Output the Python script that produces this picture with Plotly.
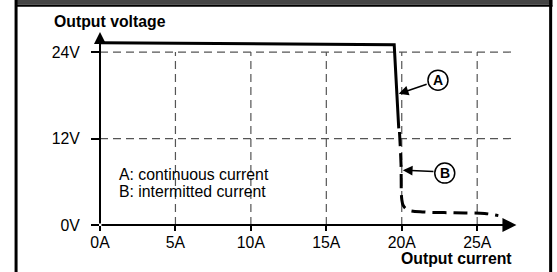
import plotly.graph_objects as go

# ---- data ----
solid_current = [0, 19.5, 19.8]
solid_voltage = [25.3, 25.0, 13.4]
dashed_current = [19.85, 19.95, 20.0, 20.1, 20.4, 21.5, 23.5, 25.5, 26.4]
dashed_voltage = [12.9, 8.5, 3.6, 2.7, 2.1, 1.8, 1.7, 1.6, 1.3]
x_ticks = [0, 5, 10, 15, 20, 25]
x_tick_labels = ["0A", "5A", "10A", "15A", "20A", "25A"]
y_ticks = [0, 12, 24]
y_tick_labels = ["0V", "12V", "24V"]
legend_lines = ["A: continuous current", "B: intermitted current"]

W, H = 557, 272
L, B = 100, 47
XMAX, YMAX = 28.5, 27.2
PXA, PXV = 15.1, 7.2
R = W - L - XMAX * PXA
T = H - B - YMAX * PXV
PW = W - L - R
PH = H - T - B

def px_x(p):
    return (p - L) / PW

def px_y(p):
    return (H - B - p) / PH

FONT = "Liberation Sans, Arial, sans-serif"
FS = 15.8

fig = go.Figure()
fig.add_trace(go.Scatter(x=solid_current, y=solid_voltage, mode="lines",
                         line=dict(color="black", width=3), hoverinfo="skip",
                         cliponaxis=False))
fig.add_trace(go.Scatter(x=dashed_current, y=dashed_voltage, mode="lines",
                         line=dict(color="black", width=3, dash="14px,7px", shape="spline"),
                         hoverinfo="skip", cliponaxis=False))

shapes = []
grid = dict(color="#555555", width=1.2, dash="8px,5px")
for v in [12, 24]:
    shapes.append(dict(type="line", xref="x", yref="y", x0=0, x1=27.4, y0=v, y1=v,
                       line=grid, layer="below"))
for c in [5, 10, 15, 20, 25]:
    shapes.append(dict(type="line", xref="x", yref="y", x0=c, x1=c, y0=0, y1=24,
                       line=grid, layer="below"))
# frame
shapes.append(dict(type="rect", xref="paper", yref="paper", x0=px_x(15), x1=px_x(553),
                   y0=px_y(0) + 0.05, y1=px_y(5), fillcolor="#454545", line=dict(width=0)))
shapes.append(dict(type="line", xref="paper", yref="paper", x0=px_x(15), x1=px_x(553),
                   y0=px_y(6), y1=px_y(6), line=dict(color="black", width=2)))
shapes.append(dict(type="line", xref="paper", yref="paper", x0=px_x(16), x1=px_x(16),
                   y0=px_y(0) + 0.05, y1=px_y(H) - 0.05, line=dict(color="black", width=3)))
shapes.append(dict(type="line", xref="paper", yref="paper", x0=px_x(551), x1=px_x(551),
                   y0=px_y(0) + 0.05, y1=px_y(H) - 0.05, line=dict(color="black", width=3)))
# circles A, B
for cx, cy in [(22.4, 20.1), (22.85, 7.2)]:
    shapes.append(dict(type="circle", xref="x", yref="y", xsizemode="pixel", ysizemode="pixel",
                       xanchor=cx, yanchor=cy, x0=-10, x1=10, y0=-10, y1=10,
                       line=dict(color="black", width=1.5), fillcolor="white"))

ann = []
# axes with arrows
ann.append(dict(x=27.6, y=0, ax=0, ay=0, xref="x", yref="y", axref="x", ayref="y",
                text="", showarrow=True, arrowhead=2, arrowsize=1.4, arrowwidth=2,
                arrowcolor="black", standoff=0, startstandoff=0))
ann.append(dict(x=0, y=26.8, ax=0, ay=0, xref="x", yref="y", axref="x", ayref="y",
                text="", showarrow=True, arrowhead=2, arrowsize=1.2, arrowwidth=2,
                arrowcolor="black", standoff=0, startstandoff=0))
# pointer arrows
ann.append(dict(x=19.8, y=18.2, ax=21.75, ay=19.6, xref="x", yref="y", axref="x", ayref="y",
                text="", showarrow=True, arrowhead=2, arrowsize=1.3, arrowwidth=1.5,
                arrowcolor="black", standoff=0))
ann.append(dict(x=20.07, y=7.6, ax=22.2, ay=7.4, xref="x", yref="y", axref="x", ayref="y",
                text="", showarrow=True, arrowhead=2, arrowsize=1.3, arrowwidth=1.5,
                arrowcolor="black", standoff=0))
for lab, cx, cy in [("A", 22.4, 20.1), ("B", 22.85, 7.2)]:
    ann.append(dict(x=cx, y=cy, xref="x", yref="y", text=f"<b>{lab}</b>", showarrow=False,
                    font=dict(family=FONT, size=14, color="black")))
# legend text
for i, t in enumerate(legend_lines):
    ann.append(dict(x=px_x(117), y=px_y(175 + 17 * i), xref="paper", yref="paper", text=t,
                    showarrow=False, xanchor="left", yanchor="middle",
                    font=dict(family=FONT, size=FS, color="black")))
# axis titles
ann.append(dict(x=px_x(52), y=px_y(22), xref="paper", yref="paper", text="<b>Output voltage</b>",
                showarrow=False, xanchor="left", yanchor="middle",
                font=dict(family=FONT, size=FS, color="black")))
ann.append(dict(x=px_x(514), y=px_y(258), xref="paper", yref="paper", text="<b>Output current</b>",
                showarrow=False, xanchor="right", yanchor="middle",
                font=dict(family=FONT, size=FS, color="black")))

fig.update_layout(
    width=W, height=H, margin=dict(l=L, r=R, t=T, b=B, autoexpand=False),
    paper_bgcolor="white", plot_bgcolor="white", showlegend=False,
    shapes=shapes, annotations=ann,
    xaxis=dict(range=[0, XMAX], tickvals=x_ticks, ticktext=x_tick_labels, showgrid=False,
               zeroline=False, showline=False, ticks="outside", ticklen=5, tickwidth=1.5,
               tickcolor="black", tickfont=dict(family=FONT, size=FS, color="black"),
               ticklabelstandoff=-2, fixedrange=True, automargin=False),
    yaxis=dict(range=[0, YMAX], tickvals=y_ticks, ticktext=y_tick_labels, showgrid=False,
               zeroline=False, showline=False, ticks="outside", ticklen=8, tickwidth=1.5,
               tickcolor="black", tickfont=dict(family=FONT, size=FS, color="black"),
               ticklabelstandoff=8, fixedrange=True, automargin=False),
)

fig.write_html("out.html", config={"displayModeBar": False},
               post_script="document.body.style.margin='0';document.body.style.overflow='hidden';")
